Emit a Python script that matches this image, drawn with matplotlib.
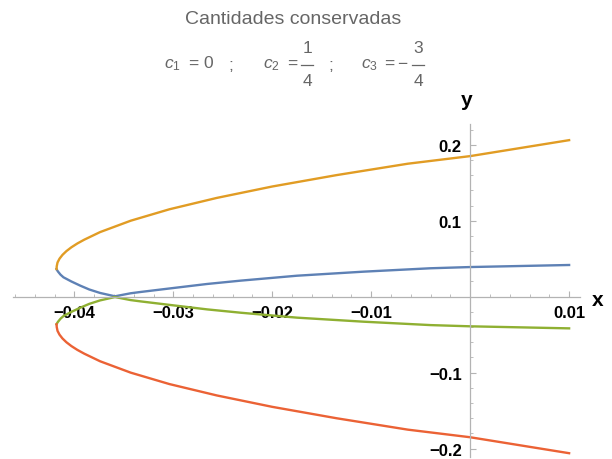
import numpy as np
import matplotlib
matplotlib.use("Agg")
import matplotlib.pyplot as plt
from matplotlib.lines import Line2D
from matplotlib.ticker import FixedLocator, FixedFormatter, MultipleLocator

# curvas (x, y)
x_orange = [-0.0418, -0.04178, -0.0417, -0.0415, -0.0412, -0.0408, -0.0403, -0.0397, -0.0390,
            -0.0374, -0.0343, -0.0304, -0.0256, -0.0200, -0.0135, -0.0063, 0.0, 0.0100]
y_orange = [0.0364, 0.040, 0.045, 0.050, 0.055, 0.060, 0.065, 0.070, 0.075,
            0.085, 0.100, 0.115, 0.130, 0.145, 0.160, 0.175, 0.185, 0.206]

x_blue = [-0.0418, -0.04175, -0.04165, -0.0414, -0.0411, -0.0403, -0.0394, -0.0385, -0.0374,
          -0.0359, -0.0343, -0.0333, -0.0300, -0.0266, -0.0232, -0.0175, -0.0108, -0.0040,
          0.0, 0.0100]
y_blue = [0.0364, 0.035, 0.033, 0.029, 0.0255, 0.020, 0.0145, 0.0095, 0.0049,
          0.0005, 0.0045, 0.0062, 0.0114, 0.0167, 0.0211, 0.0276, 0.0329, 0.0374,
          0.039, 0.0417]

x_green = [-0.0418, -0.04175, -0.04165, -0.0414, -0.0411, -0.0403, -0.0394, -0.0385, -0.0374,
           -0.0359, -0.0343, -0.0333, -0.0300, -0.0266, -0.0232, -0.0175, -0.0108, -0.0040,
           0.0, 0.0100]
y_green = [-0.0364, -0.035, -0.033, -0.029, -0.0255, -0.020, -0.0145, -0.0095, -0.0049,
           -0.0005, -0.0045, -0.0062, -0.0114, -0.0167, -0.0211, -0.0276, -0.0329, -0.0374,
           -0.039, -0.0417]

x_red = [-0.0418, -0.04178, -0.0417, -0.0415, -0.0412, -0.0408, -0.0403, -0.0397, -0.0390,
         -0.0374, -0.0343, -0.0304, -0.0256, -0.0200, -0.0135, -0.0063, 0.0, 0.0100]
y_red = [-0.0364, -0.040, -0.045, -0.050, -0.055, -0.060, -0.065, -0.070, -0.075,
         -0.085, -0.100, -0.115, -0.130, -0.145, -0.160, -0.175, -0.185, -0.206]

xticks = [-0.04, -0.03, -0.02, -0.01, 0.01]
xtick_labels = ["\u22120.04", "\u22120.03", "\u22120.02", "\u22120.01", "0.01"]
yticks = [-0.2, -0.1, 0.1, 0.2]
ytick_labels = ["\u22120.2", "\u22120.1", "0.1", "0.2"]

plt.rcParams['font.family'] = ['Liberation Sans', 'DejaVu Sans']
plt.rcParams['mathtext.fontset'] = 'custom'
plt.rcParams['mathtext.rm'] = 'Liberation Sans'
plt.rcParams['mathtext.it'] = 'Liberation Sans:italic'

W, H = 612, 460
fig = plt.figure(figsize=(W/100, H/100), dpi=100)
ax = fig.add_axes([13/W, 2/H, 567/W, 332.8/H])

axis_col = '#b3b3b3'
ax.plot(x_blue, y_blue, color='#5E81B5', lw=1.7)
ax.plot(x_orange, y_orange, color='#E19C24', lw=1.7)
ax.plot(x_green, y_green, color='#8FB032', lw=1.7)
ax.plot(x_red, y_red, color='#EB6235', lw=1.7)

ax.set_xlim(-0.0462, 0.0111)
ax.set_ylim(-0.211, 0.227)

for s in ['top', 'right']:
    ax.spines[s].set_visible(False)
for s in ['left', 'bottom']:
    ax.spines[s].set_position(('data', 0))
    ax.spines[s].set_color(axis_col)
    ax.spines[s].set_linewidth(0.9)

ax.xaxis.set_major_locator(FixedLocator(xticks))
ax.xaxis.set_major_formatter(FixedFormatter(xtick_labels))
ax.xaxis.set_minor_locator(MultipleLocator(0.002))
ax.yaxis.set_major_locator(FixedLocator(yticks))
ax.yaxis.set_major_formatter(FixedFormatter(ytick_labels))
ax.yaxis.set_minor_locator(MultipleLocator(0.02))

ax.tick_params(which='major', direction='in', length=4, width=0.8, color=axis_col,
               labelsize=12, pad=6)
ax.tick_params(which='minor', direction='in', length=2.5, width=0.6, color=axis_col)
for lab in ax.get_xticklabels() + ax.get_yticklabels():
    lab.set_fontweight('bold')

fig.text(598/W, 1 - 300/H, 'x', fontsize=15, fontweight='bold', ha='center', va='center')
fig.text(467/W, 1 - 101/H, 'y', fontsize=15, fontweight='bold', ha='center', va='center')

gray = '#666666'
fig.text(293/W, 1 - 20/H, 'Cantidades conservadas', fontsize=14, color=gray,
         ha='center', va='center')


def put(txt, px, py, size=12.5):
    fig.text(px/W, 1 - py/H, txt, fontsize=size, color=gray, ha='center', va='center')


def frac(num, den, px, half=6):
    put(num, px, 49)
    put(den, px, 81)
    fig.add_artist(Line2D([(px - half)/W, (px + half)/W], [1 - 66/H, 1 - 66/H],
                          color=gray, lw=0.9))


# segunda linea del titulo
put('$c_1$', 172, 65)
put('=', 193, 64)
put('0', 208, 64)
put(';', 231, 65)
put('$c_2$', 271, 65)
put('=', 292, 64)
frac('1', '4', 307)
put(';', 331, 65)
put('$c_3$', 369, 65)
put('=', 389, 64)
put('\u2212', 402, 64)
frac('3', '4', 418)

fig.savefig('out.png', dpi=100)
